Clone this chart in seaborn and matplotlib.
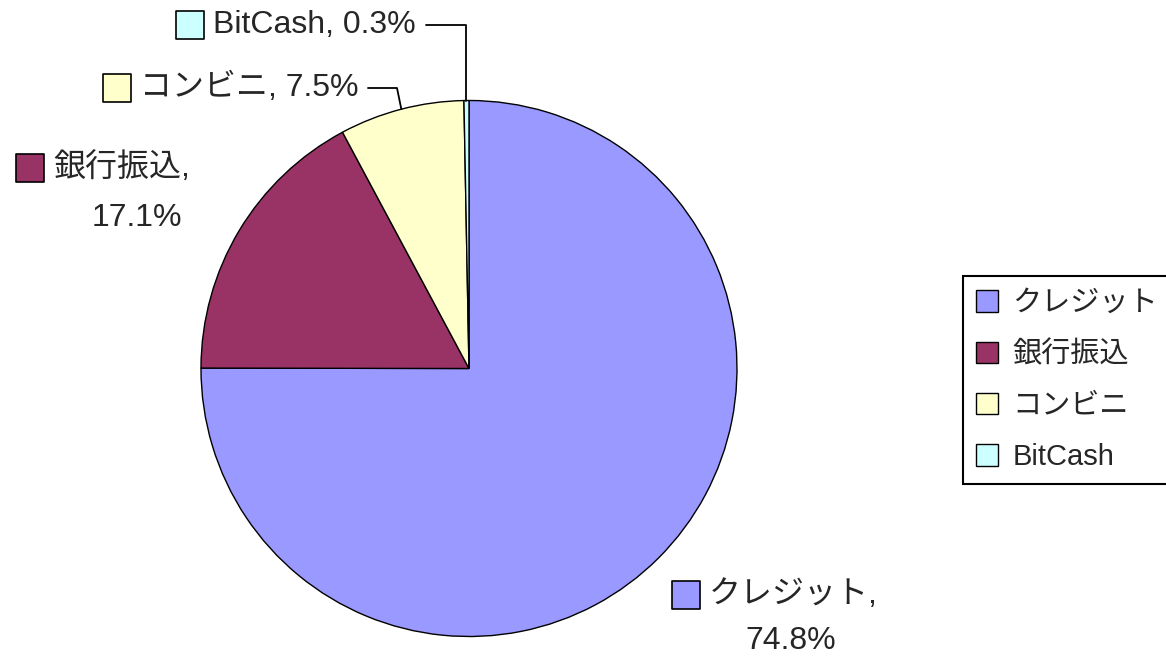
import numpy as np
import matplotlib
matplotlib.use("Agg")
from matplotlib import pyplot as plt
import seaborn as sns

categories = ["クレジット", "銀行振込", "コンビニ", "BitCash"]
shares = [74.8, 17.1, 7.5, 0.3]
colors = ["#9999FF", "#993366", "#FFFFCC", "#CCFFFF"]

sns.set_theme(style="white")
plt.rcParams["font.family"] = ["Liberation Sans", "Noto Sans CJK JP", "DejaVu Sans"]

W, H = 1166, 659
fig = plt.figure(figsize=(W / 100, H / 100), dpi=100)
ax = fig.add_axes([0, 0, 1, 1])


def py(y):
    # pixel row (from top) -> data y
    return H - y


cx, cy, r = 469, 368.5, 268
wedges, _ = ax.pie(shares, colors=colors, startangle=90, counterclock=False,
                   center=(cx, py(cy)), radius=r,
                   wedgeprops=dict(edgecolor="black", linewidth=1))
ax.set_xlim(0, W)
ax.set_ylim(0, H)
ax.set_aspect("equal")
ax.axis("off")

fs = 23


def edge_point(w):
    a = np.deg2rad((w.theta1 + w.theta2) / 2)
    return cx + r * np.cos(a), py(cy) + r * np.sin(a)


def key(x, y, color):
    ax.scatter([x], [py(y)], marker="s", s=380, c=color, edgecolors="black",
               linewidths=1.2, zorder=5)


# BitCash label with leader line
key(190, 25, colors[3])
ax.text(213, py(25), f"{categories[3]}, {shares[3]}%", fontsize=fs, va="center", ha="left")
ex, ey = edge_point(wedges[3])
ax.plot([426, ex, ex], [py(25), py(25), ey], color="black", lw=1.3)

# コンビニ label with leader line
key(117, 88, colors[2])
ax.text(140, py(88), f"{categories[2]}, {shares[2]}%", fontsize=fs, va="center", ha="left")
ex, ey = edge_point(wedges[2])
ax.plot([368, 397, ex], [py(88), py(88), ey], color="black", lw=1.3)

# 銀行振込 label
key(30, 168, colors[1])
ax.text(53, py(168), f"{categories[1]},", fontsize=fs, va="center", ha="left")
ax.text(137, py(218), f"{shares[1]}%", fontsize=fs, va="center", ha="center")

# クレジット label
key(686, 595, colors[0])
ax.text(709, py(595), f"{categories[0]},", fontsize=fs, va="center", ha="left")
ax.text(791, py(641), f"{shares[0]}%", fontsize=fs, va="center", ha="center")

leg = ax.legend(wedges, categories, loc="upper left",
                bbox_to_anchor=(963 / W, 1 - 276 / H), bbox_transform=fig.transFigure,
                fontsize=21, frameon=True, fancybox=False, framealpha=1,
                edgecolor="black", handlelength=0.75, handleheight=0.75,
                handletextpad=0.5, labelspacing=0.8, borderpad=0.45,
                borderaxespad=0)
leg.get_frame().set_linewidth(1.5)

fig.savefig("out.png", dpi=100)
